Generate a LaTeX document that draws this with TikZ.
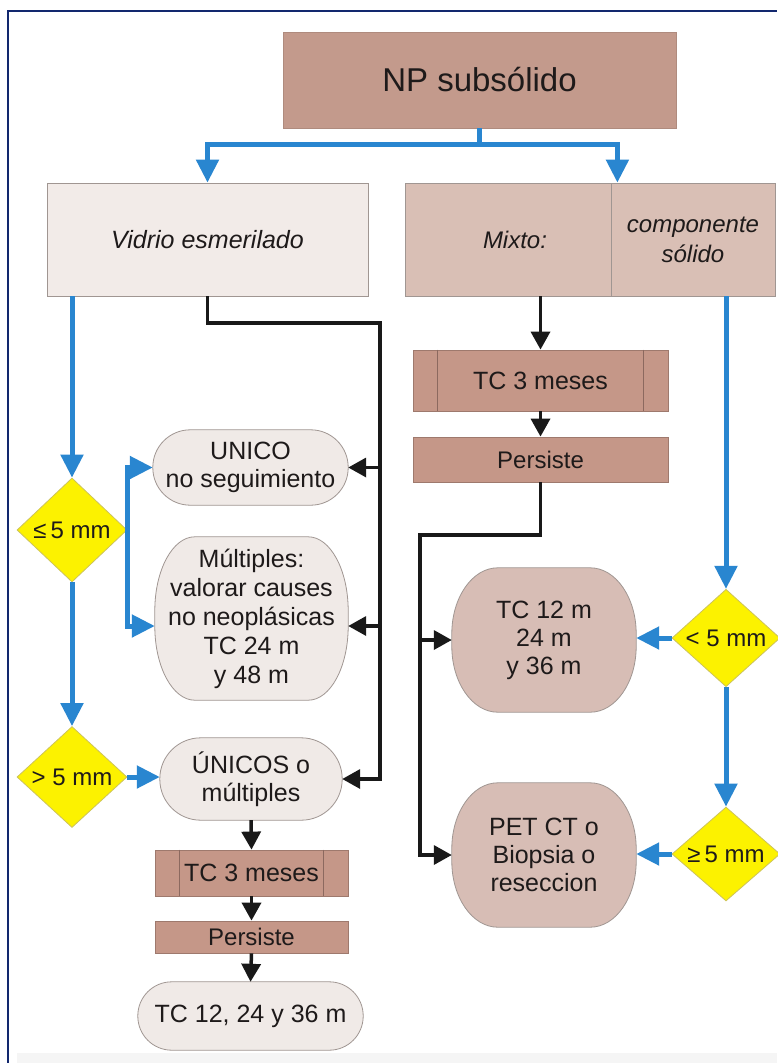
\documentclass[tikz,border=0pt]{standalone}
\usepackage{fontspec}
\setmainfont{Liberation Sans}
\usetikzlibrary{shapes.geometric,arrows.meta,calc,backgrounds}

\definecolor{npfill}{RGB}{195,154,140}
\definecolor{vidfill}{RGB}{242,235,232}
\definecolor{mixfill}{RGB}{217,191,181}
\definecolor{tcfill}{RGB}{197,151,136}
\definecolor{gfill}{RGB}{215,189,181}
\definecolor{ufill}{RGB}{240,234,231}
\definecolor{boxline}{RGB}{160,150,146}
\definecolor{tcline}{RGB}{140,105,95}
\definecolor{dyellow}{RGB}{252,242,0}
\definecolor{dline}{RGB}{205,195,90}
\definecolor{flowblue}{RGB}{41,134,208}
\definecolor{flowdark}{RGB}{25,25,25}
\definecolor{framenavy}{RGB}{18,40,110}
\definecolor{txt}{RGB}{30,26,26}

% box with elliptical corners, drawn behind a named node
\newcommand\ellbox[4]{%
  \begin{scope}[on background layer]
    \path[#4] ($(#1.north west)+(#2,0)$) -- ($(#1.north east)+(-#2,0)$)
      arc[start angle=90,end angle=0,x radius=#2,y radius=#3]
      -- ($(#1.south east)+(0,#3)$)
      arc[start angle=0,end angle=-90,x radius=#2,y radius=#3]
      -- ($(#1.south west)+(#2,0)$)
      arc[start angle=270,end angle=180,x radius=#2,y radius=#3]
      -- ($(#1.north west)+(0,-#3)$)
      arc[start angle=180,end angle=90,x radius=#2,y radius=#3] -- cycle;
  \end{scope}}

\tikzset{
  base/.style={inner sep=0pt, text=txt, align=center,
    font=\fontsize{25}{28}\selectfont},
  rectbox/.style={base, draw=boxline, line width=0.8pt, rectangle},
  softbox/.style={base, rectangle},
  softpaint/.style={fill=#1, draw=boxline, line width=0.8pt},
  decision/.style={base, diamond, fill=dyellow, draw=dline, line width=0.8pt,
    font=\fontsize{24}{28}\selectfont},
  blueline/.style={draw=flowblue, line width=5pt},
  bluearrow/.style={blueline, -{Triangle[length=23pt,width=22pt]}},
  darkline/.style={draw=flowdark, line width=3.5pt},
  darkarrow/.style={darkline, -{Triangle[length=18pt,width=19pt]}},
  sidebar/.style={draw=tcline, line width=0.9pt},
}

\begin{document}
\begin{tikzpicture}[x=1pt,y=1pt]
\useasboundingbox (0,0) rectangle (777,-1063);
\begin{scope}[on background layer]
  \fill[white] (0,0) rectangle (777,-1063);
  \fill[black!4] (17,-1053) rectangle (777,-1063);
\end{scope}
\draw[framenavy, line width=2.6pt] (8,-1063) -- (8,-11) -- (777,-11);

% top level
\node[rectbox, draw=npfill!90!black, fill=npfill, minimum width=393pt, minimum height=96pt,
  font=\fontsize{33}{38}\selectfont] (np) at (479.5,-80) {NP subsólido};

% nodule types
\node[rectbox, fill=vidfill, minimum width=321pt, minimum height=113pt,
  font=\itshape\fontsize{25}{28}\selectfont] (vid) at (207.5,-239.5) {Vidrio esmerilado};
\node[rectbox, fill=mixfill, minimum width=206pt, minimum height=113pt,
  font=\itshape\fontsize{24}{28}\selectfont] (mixL) at (508,-239.5) {\hspace*{14pt}Mixto:};
\node[rectbox, fill=mixfill, minimum width=164pt, minimum height=113pt,
  font=\itshape\fontsize{24}{30}\selectfont] (mixR) at (693,-239.5) {componente\\sólido};

% ground-glass branch
\node[decision, minimum width=110pt, minimum height=104pt] (d1) at (72,-530) {≤\,5 mm};
\node[decision, minimum width=110pt, minimum height=101pt] (d2) at (72,-777) {> 5 mm};

\node[softbox, minimum width=195pt, minimum height=75pt] (u1) at (250.5,-467.5) {UNICO\\no seguimiento};
\ellbox{u1}{37.5}{37.5}{softpaint=ufill}
\node[softbox, minimum width=193pt, minimum height=163pt, font=\fontsize{25}{29}\selectfont]
  (u2) at (251.5,-618.5) {Múltiples:\\valorar causes\\no neoplásicas\\TC 24 m\\y 48 m};
\ellbox{u2}{40}{74}{softpaint=ufill}
\node[softbox, minimum width=182pt, minimum height=82pt] (u3) at (251,-779) {ÚNICOS o\\múltiples};
\ellbox{u3}{41}{41}{softpaint=ufill}

\node[rectbox, fill=tcfill, draw=tcfill!80!black, minimum width=193pt, minimum height=46pt] (t1) at (251.5,-873) {TC 3 meses};
\draw[sidebar] ($(t1.north west)+(25,0)$) -- ($(t1.south west)+(25,0)$);
\draw[sidebar] ($(t1.north east)+(-25,0)$) -- ($(t1.south east)+(-25,0)$);
\node[rectbox, fill=tcfill, draw=tcfill!80!black, minimum width=193pt, minimum height=32pt,
  font=\fontsize{24}{28}\selectfont] (p1) at (251.5,-937) {Persiste};
\node[softbox, minimum width=225pt, minimum height=68pt] (f1) at (250.5,-1016) {TC 12, 24 y 36 m};
\ellbox{f1}{34}{34}{softpaint=ufill}

% mixed branch
\node[rectbox, fill=tcfill, draw=tcfill!80!black, minimum width=255pt, minimum height=61pt] (t2) at (540.5,-380.5) {TC 3 meses};
\draw[sidebar] ($(t2.north west)+(25,0)$) -- ($(t2.south west)+(25,0)$);
\draw[sidebar] ($(t2.north east)+(-25,0)$) -- ($(t2.south east)+(-25,0)$);
\node[rectbox, fill=tcfill, draw=tcfill!80!black, minimum width=255pt, minimum height=45pt,
  font=\fontsize{24}{28}\selectfont] (p2) at (540.5,-459.5) {Persiste};

\node[softbox, minimum width=184pt, minimum height=144pt] (g1) at (544,-640) {TC 12 m\\24 m\\y 36 m};
\ellbox{g1}{46}{66}{softpaint=gfill}
\node[softbox, minimum width=184pt, minimum height=144pt] (g2) at (544,-855) {PET CT o\\Biopsia o\\reseccion};
\ellbox{g2}{46}{66}{softpaint=gfill}

\node[decision, minimum width=108pt, minimum height=88pt] (d3) at (726,-638) {< 5 mm};
\node[decision, minimum width=108pt, minimum height=86pt] (d4) at (726,-854) {≥\,5 mm};

% blue connectors
\draw[blueline] (np.south) -- ++(0,-16) coordinate (bs);
\draw[bluearrow] (bs) -| (vid.north);
\coordinate (mixtop) at ($(mixL.north east)+(6,0)$);
\draw[bluearrow] (bs) -| (mixtop);
\draw[bluearrow] (vid.south -| d1.north) -- (d1.north);
\draw[bluearrow] (d1.south) -- (d2.north);
\coordinate (u2in) at ($(u2.west)+(0,-7.5)$);
\draw[bluearrow] (d1.east) |- (u1.west);
\draw[bluearrow] (d1.east) |- (u2in);
\draw[bluearrow] (d2.east) -- (d2.east -| u3.west);
\draw[bluearrow] (mixR.south -| d3.north) -- (d3.north);
\draw[bluearrow] (d3.south) -- (d4.north);
\draw[bluearrow] (d3.west) -- (d3.west -| g1.east);
\draw[bluearrow] (d4.west) -- (d4.west -| g2.east);

% dark connectors
\coordinate (jL) at (380,-323);
\draw[darkarrow] (vid.south) |- (jL) |- (u3.east);
\draw[darkarrow] (jL |- u1.east) -- (u1.east);
\coordinate (u2out) at ($(u2.east)+(0,-7.5)$);
\draw[darkarrow] (jL |- u2out) -- (u2out);
\draw[darkarrow] (u3.south) -- (t1.north);
\draw[darkarrow] (t1.south) -- (p1.north);
\draw[darkarrow] (p1.south) -- (f1.north);

\draw[darkarrow] (t2.north |- mixL.south) -- (t2.north);
\draw[darkarrow] (t2.south) -- (p2.north);
\coordinate (jR) at (420,-535);
\draw[darkarrow] (p2.south) |- (jR) |- (g2.west);
\draw[darkarrow] (jR |- g1.west) -- (g1.west);
\end{tikzpicture}
\end{document}
